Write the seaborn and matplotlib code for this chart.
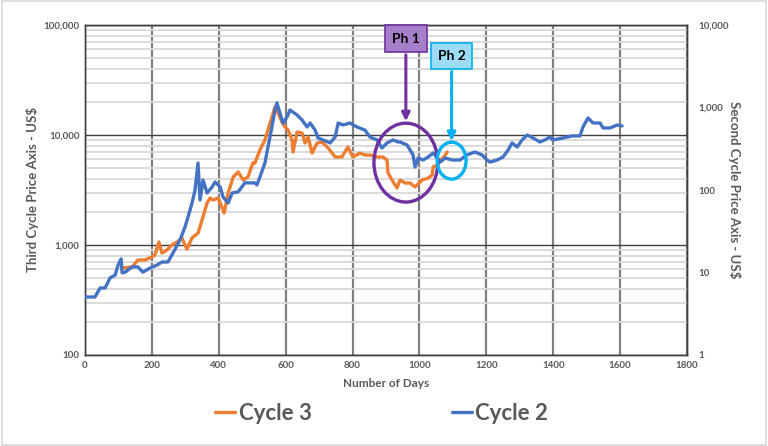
import numpy as np
import pandas as pd
import matplotlib
matplotlib.use("Agg")
import matplotlib.pyplot as plt
import matplotlib.ticker as mticker
from matplotlib.patches import Ellipse, Rectangle, FancyArrowPatch
from matplotlib.lines import Line2D
import seaborn as sns

# ---------------- data ----------------
cycle2_days = [0, 30, 45, 60, 75, 90, 99, 108, 111, 120, 141, 158, 173, 194, 215, 230, 248,
               263, 284, 299, 308, 320, 329, 338, 344, 353, 365, 380, 389, 404, 413, 428, 440,
               458, 478, 508, 514, 523, 538, 547, 559, 568, 574, 583, 592, 604, 613, 634, 649,
               664, 673, 688, 697, 712, 733, 748, 757, 771, 792, 813, 837, 852, 873, 888, 903,
               921, 936, 942, 963, 972, 981, 987, 996, 1011, 1026, 1041, 1053, 1062, 1077, 1098,
               1121, 1142, 1166, 1187, 1202, 1211, 1232, 1250, 1265, 1277, 1292, 1307, 1322,
               1340, 1360, 1375, 1390, 1399, 1429, 1456, 1480, 1489, 1504, 1519, 1540, 1549,
               1570, 1591, 1606]
cycle2_price = [5.05, 5.05, 6.5, 6.5, 8.6, 9.3, 12.3, 14.6, 9.9, 10.1, 11.7, 11.7, 10.1, 11.3,
                12.3, 13.4, 13.4, 17.2, 24.8, 35.6, 47.1, 69.5, 100, 212, 75.7, 132, 92, 109,
                125, 109, 82, 69.5, 92, 95, 122, 122, 115, 144, 212, 332, 581, 933, 1135, 857,
                649, 767, 933, 811, 705, 581, 649, 533, 427, 404, 372, 439, 649, 614, 649, 581,
                533, 439, 404, 323, 372, 404, 382, 382, 351, 305, 266, 190, 244, 231, 251, 281,
                244, 218, 244, 231, 231, 266, 289, 266, 231, 218, 231, 251, 305, 372, 332, 404,
                464, 427, 382, 404, 439, 404, 427, 452, 452, 581, 747, 649, 649, 565, 565, 614,
                597]

cycle3_days = [114, 141, 158, 179, 200, 209, 221, 230, 245, 260, 275, 290, 299, 305, 320, 338,
               350, 365, 374, 383, 398, 413, 416, 428, 443, 458, 473, 487, 502, 508, 523, 538,
               547, 559, 568, 577, 589, 598, 607, 619, 622, 634, 649, 658, 667, 679, 694, 709,
               727, 748, 768, 786, 801, 822, 837, 852, 873, 891, 903, 906, 918, 933, 942, 957,
               972, 987, 1008, 1026, 1038, 1041, 1053, 1062, 1071, 1083]
cycle3_price = [618, 631, 731, 731, 778, 811, 1065, 846, 901, 1000, 1065, 1158, 1000, 920, 1158,
                1285, 1688, 2410, 2675, 2565, 2675, 2081, 1954, 2970, 4150, 4610, 3900, 4150,
                5560, 5560, 7310, 9010, 11100, 14580, 17990, 15850, 13120, 11830, 11100, 9010,
                7000, 10650, 10420, 8460, 9590, 6850, 8460, 8630, 7620, 6310, 6310, 7780, 6310,
                6850, 6580, 6580, 6310, 6310, 5930, 4520, 3900, 3300, 3900, 3660, 3660, 3370,
                3900, 4060, 4330, 5120, 5340, 5930, 6180, 7000]

x_ticks = [0, 200, 400, 600, 800, 1000, 1200, 1400, 1600, 1800]
left_ticks = [100, 1000, 10000, 100000]
right_ticks = [1, 10, 100, 1000, 10000]
series_names = ["Cycle 3", "Cycle 2"]
phase_labels = ["Ph 1", "Ph 2"]

# ---------------- style ----------------
sns.set_style("white")
plt.rcParams["font.family"] = ["Lato", "DejaVu Sans"]

ORANGE = "#ED7D31"
BLUE = "#4472C4"
GREY_TXT = "#595959"

fig = plt.figure(figsize=(7.68, 4.46), dpi=100)
ax = fig.add_axes([85 / 768, 1 - 355 / 446, 602 / 768, 330 / 446])
ax2 = ax.twinx()

df3 = pd.DataFrame({"day": cycle3_days, "price": cycle3_price})
df2 = pd.DataFrame({"day": cycle2_days, "price": cycle2_price})

sns.lineplot(data=df3, x="day", y="price", ax=ax, color=ORANGE, lw=2.4, legend=False,
             estimator=None, sort=False, zorder=5)
sns.lineplot(data=df2, x="day", y="price", ax=ax2, color=BLUE, lw=2.4, legend=False,
             estimator=None, sort=False, zorder=5)

ax.set_yscale("log")
ax2.set_yscale("log")
ax.set_xlim(0, 1800)
ax.set_ylim(100, 100000)
ax2.set_ylim(1, 10000)

ax.set_xticks(x_ticks)
ax.set_yticks(left_ticks)
ax2.set_yticks(right_ticks)
ax.yaxis.set_major_formatter(mticker.FuncFormatter(lambda v, p: f"{int(round(v)):,}"))
ax2.yaxis.set_major_formatter(mticker.FuncFormatter(lambda v, p: f"{int(round(v)):,}"))
ax.yaxis.set_minor_locator(mticker.LogLocator(base=10, subs=np.arange(2, 10)))
ax2.yaxis.set_minor_locator(mticker.NullLocator())

# grid
ax.grid(False)
ax2.grid(False)
ax.set_axisbelow(True)
ax.yaxis.grid(True, which="minor", color="#D9D9D9", lw=1.3, zorder=0)
ax.yaxis.grid(True, which="major", color="#404040", lw=1.0, zorder=1)
ax.xaxis.grid(True, which="major", color="#808080", lw=1.6, zorder=1)

ax.tick_params(axis="both", which="both", length=0, labelsize=7, labelcolor=GREY_TXT, pad=4)
ax2.tick_params(axis="both", which="both", length=0, labelsize=7, labelcolor=GREY_TXT, pad=8)
for lab in ax.get_xticklabels() + ax.get_yticklabels() + ax2.get_yticklabels():
    lab.set_fontweight("bold")

for a in (ax, ax2):
    for s in a.spines.values():
        s.set_color("#404040")
        s.set_linewidth(1.0)

ax.set_xlabel("Number of Days", fontsize=8.5, fontweight="bold", color=GREY_TXT, labelpad=6)
ax.set_ylabel("Third Cycle Price Axis - US$", fontsize=9.5, fontweight="bold",
              color=GREY_TXT, labelpad=3)
ax2.set_ylabel("Second Cycle Price Axis - US$", fontsize=9.5, fontweight="bold",
               color=GREY_TXT, rotation=270, labelpad=9)

# ---------------- annotations (axes fraction coords) ----------------
PURPLE = "#7030A0"
CYAN = "#00B0F0"
ax2.add_patch(Ellipse((0.533, 0.583), 0.106, 0.239, transform=ax2.transAxes, fill=False,
                      ec=PURPLE, lw=2.4, zorder=10, clip_on=False))
ax2.add_patch(Ellipse((0.609, 0.589), 0.048, 0.112, transform=ax2.transAxes, fill=False,
                      ec=CYAN, lw=2.4, zorder=10, clip_on=False))

ax2.add_patch(FancyArrowPatch((0.533, 0.918), (0.533, 0.700), transform=ax2.transAxes,
                              arrowstyle="-|>", mutation_scale=12, color=PURPLE, lw=2.2,
                              zorder=11))
ax2.add_patch(FancyArrowPatch((0.609, 0.867), (0.609, 0.640), transform=ax2.transAxes,
                              arrowstyle="-|>", mutation_scale=12, color=CYAN, lw=2.2,
                              zorder=11))

ax2.add_patch(Rectangle((0.498, 0.918), 0.070, 0.082, transform=ax2.transAxes,
                        fc="#A57FC9", ec=PURPLE, lw=1.2, zorder=12, clip_on=False))
ax2.text(0.533, 0.959, phase_labels[0], transform=ax2.transAxes, ha="center", va="center",
         fontsize=10, fontweight="bold", color="black", zorder=13)
ax2.add_patch(Rectangle((0.575, 0.867), 0.068, 0.078, transform=ax2.transAxes,
                        fc="#9DDCF7", ec=CYAN, lw=1.2, zorder=12, clip_on=False))
ax2.text(0.609, 0.906, phase_labels[1], transform=ax2.transAxes, ha="center", va="center",
         fontsize=10, fontweight="bold", color="black", zorder=13)

# ---------------- legend ----------------
handles = [Line2D([], [], color=ORANGE, lw=2.4), Line2D([], [], color=BLUE, lw=2.4)]
leg = fig.legend(handles, series_names, loc="center", bbox_to_anchor=(0.497, 1 - 413 / 446),
                 ncol=2, frameon=False, handlelength=0.9, handletextpad=0.15,
                 columnspacing=6.3, labelcolor=GREY_TXT, prop={"size": 16, "weight": "bold"})

# outer chart border
fig.add_artist(Rectangle((0.002, 0.002), 0.996, 0.996, transform=fig.transFigure,
                         fill=False, ec="#D9D9D9", lw=1.2))

fig.savefig("out.png", dpi=100)
